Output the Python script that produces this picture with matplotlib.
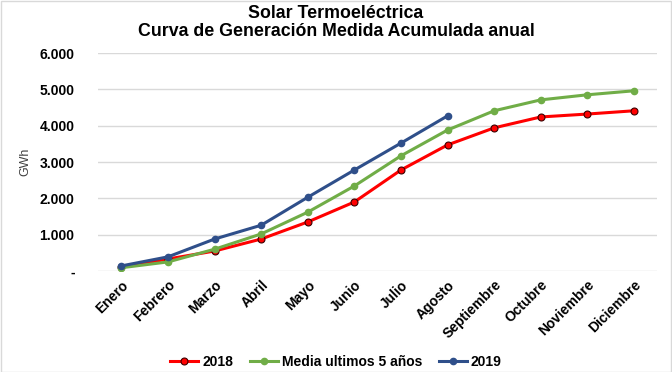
import matplotlib.pyplot as plt
from matplotlib.ticker import FuncFormatter

plt.rcParams["font.family"] = ["Liberation Sans", "DejaVu Sans"]

months = ["Enero", "Febrero", "Marzo", "Abril", "Mayo", "Junio", "Julio",
          "Agosto", "Septiembre", "Octubre", "Noviembre", "Diciembre"]
gen_2018 = [110, 330, 550, 880, 1350, 1900, 2780, 3470, 3940, 4240, 4320, 4410]
gen_media = [90, 250, 600, 1020, 1620, 2340, 3170, 3880, 4410, 4710, 4850, 4960]
gen_2019 = [140, 390, 880, 1260, 2030, 2780, 3520, 4270]


def thousands(v, pos):
    if v == 0:
        return "-"
    return f"{int(v):,}".replace(",", ".")


fig = plt.figure(figsize=(6.72, 3.72), dpi=100)
fig.patches.append(plt.Rectangle((0.001, 0.001), 0.997, 0.997, transform=fig.transFigure,
                                 fill=False, edgecolor="#d9d9d9", linewidth=1))
ax = fig.add_axes([0.146, 0.2715, 0.832, 0.586])

x = list(range(len(months)))
ax.plot(x, gen_2018, color="#ff0000", lw=2.2, marker="o", ms=5,
        mfc="#ff0000", mec="#3a0000", mew=0.8, label="2018", zorder=3)
ax.plot(x, gen_media, color="#70ad47", lw=2.2, marker="o", ms=4.5,
        mfc="#70ad47", mec="#70ad47", label="Media ultimos 5 años", zorder=3)
ax.plot(x[:len(gen_2019)], gen_2019, color="#2f4f8a", lw=2.2, marker="o", ms=4.5,
        mfc="#2f4f8a", mec="#2f4f8a", label="2019", zorder=4)

ax.set_xlim(-0.5, 11.5)
ax.set_ylim(0, 6000)
ax.set_yticks(range(0, 6001, 1000))
ax.yaxis.set_major_formatter(FuncFormatter(thousands))
ax.grid(axis="y", color="#d9d9d9", lw=1)
ax.set_axisbelow(True)
for s in ax.spines.values():
    s.set_visible(False)
ax.tick_params(axis="both", length=0)
ax.tick_params(axis="y", pad=17)
ax.tick_params(axis="x", pad=5)
ax.set_xticks(x)
ax.set_xticklabels(months, rotation=45, ha="right", rotation_mode="anchor",
                   fontweight="bold", fontsize=10)
for lbl in ax.get_yticklabels():
    lbl.set_fontweight("bold")
    lbl.set_fontsize(10)
ax.set_ylabel("GWh", fontsize=9, labelpad=6, color="#404040")

fig.text(0.5, 0.965, "Solar Termoeléctrica", ha="center", va="center",
         fontsize=12.8, fontweight="bold")
fig.text(0.5, 0.915, "Curva de Generación Medida Acumulada anual", ha="center",
         va="center", fontsize=12.8, fontweight="bold")

fig.legend(loc="center", bbox_to_anchor=(0.5, 0.028), ncol=3, frameon=False,
           prop={"weight": "bold", "size": 10}, handlelength=2.0,
           columnspacing=1.2, handletextpad=0.3)

fig.savefig("out.png", dpi=100)
